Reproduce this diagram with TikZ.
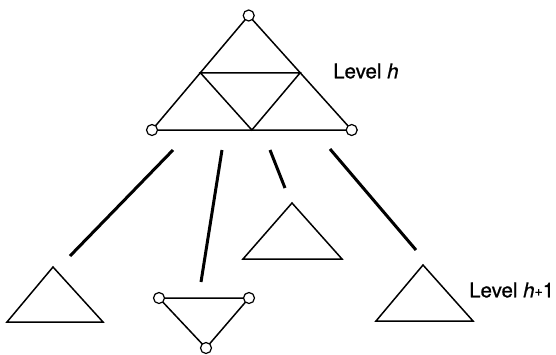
\documentclass[tikz,border=0pt]{standalone}
\usepackage{fontspec}
\setmainfont{TeX Gyre Heros}
\newfontfamily\lblfamily[FakeBold=0.8]{TeX Gyre Heros}
\usetikzlibrary{calc}
\begin{document}
\begin{tikzpicture}[x=1pt,y=-1pt,
  tri/.style={line width=1.5pt, line join=miter},
  link/.style={line width=3pt},
  vtx/.style={circle, draw, fill=white, line width=1.2pt, minimum size=11pt, inner sep=0pt},
  lbl/.style={font=\lblfamily\fontsize{20.5}{24}\selectfont, anchor=west, inner sep=0pt}]
\useasboundingbox (0,0) rectangle (556,354);
% top triangle
\coordinate (A) at (248.7,15.5);
\coordinate (B) at (152,130);
\coordinate (C) at (351.7,130);
\coordinate (AB) at ($(A)!0.5!(B)$);
\coordinate (AC) at ($(A)!0.5!(C)$);
\coordinate (BC) at ($(B)!0.5!(C)$);
\draw[tri] (A) -- (B) -- (C) -- cycle;
\draw[tri] (AB) -- (AC) -- (BC) -- cycle;
\node[vtx] (vA) at (A) {};
\node[vtx] (vB) at (B) {};
\node[vtx] (vC) at (C) {};
\node[lbl] (lh) at (333,71) {Level \textit{h}};
% lower triangles
\coordinate (t1a) at (53,267);
\coordinate (t1b) at (7,322);
\coordinate (t1c) at (103,322);
\draw[tri] (t1a) -- (t1b) -- (t1c) -- cycle;
\coordinate (t2a) at (159,298);
\coordinate (t2b) at (249,298);
\coordinate (t2c) at (206,348);
\draw[tri] (t2a) -- (t2b) -- (t2c) -- cycle;
\node[vtx] (v2a) at (t2a) {};
\node[vtx] (v2b) at (t2b) {};
\node[vtx] (v2c) at (t2c) {};
\coordinate (t3a) at (292,203);
\coordinate (t3b) at (243,259);
\coordinate (t3c) at (342,259);
\draw[tri] (t3a) -- (t3b) -- (t3c) -- cycle;
\coordinate (t4a) at (423,265);
\coordinate (t4b) at (376,321);
\coordinate (t4c) at (473,321);
\draw[tri] (t4a) -- (t4b) -- (t4c) -- cycle;
\node[lbl] (lh1) at (469,290) {Level \textit{h}\raisebox{1.5pt}{\fontsize{14}{16}\selectfont+}1};
% links
\coordinate (l1s) at (173,150); \coordinate (l1e) at (70,256);
\coordinate (l2s) at (222,150); \coordinate (l2e) at (201,282);
\coordinate (l3s) at (270,150); \coordinate (l3e) at (285,188);
\coordinate (l4s) at (330,149); \coordinate (l4e) at (416,250);
\draw[link] (l1s) -- (l1e);
\draw[link] (l2s) -- (l2e);
\draw[link] (l3s) -- (l3e);
\draw[link] (l4s) -- (l4e);
\end{tikzpicture}
\end{document}
